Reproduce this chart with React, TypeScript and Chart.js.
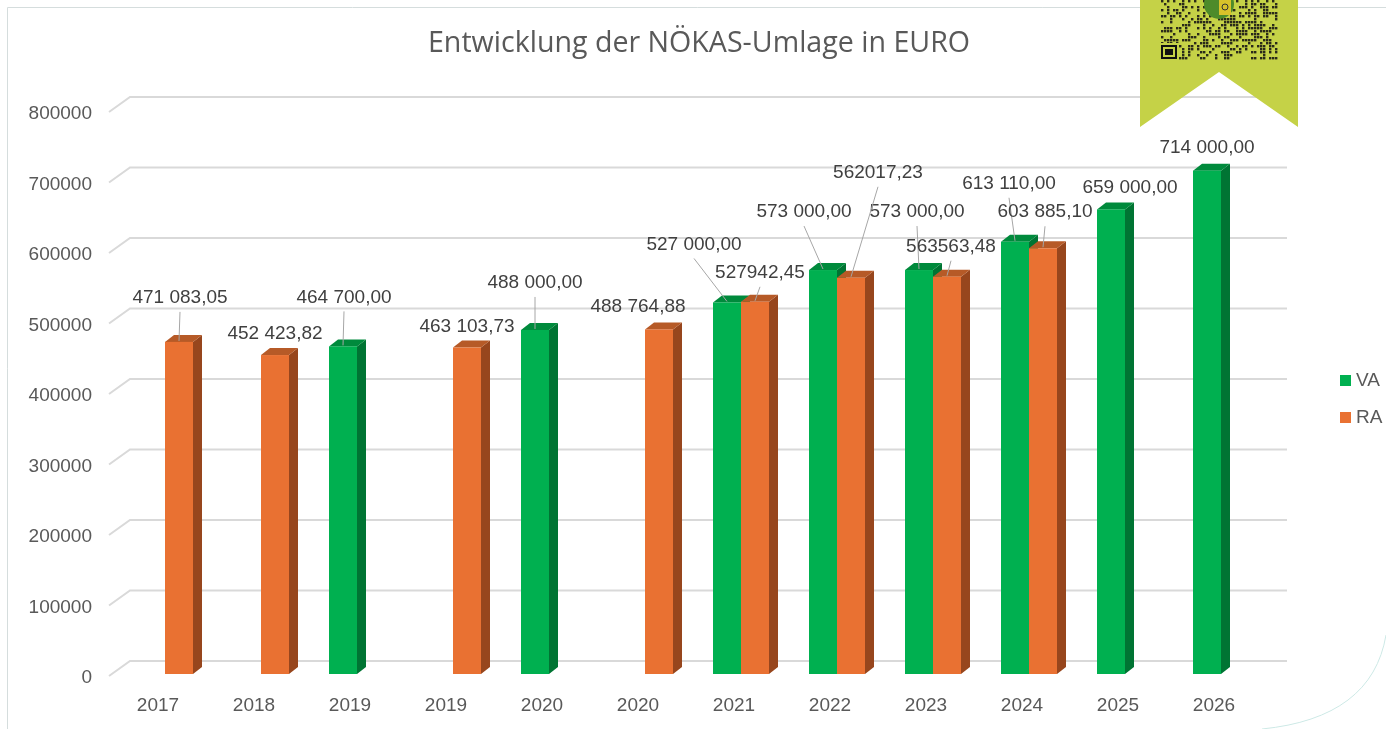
import React, { useEffect, useRef } from 'react';
import { Chart, registerables } from 'chart.js';

Chart.register(...registerables);

const TITLE = 'Entwicklung der NÖKAS-Umlage in EURO';
const CATEGORIES = ['2017', '2018', '2019', '2019', '2020', '2020', '2021', '2022', '2023', '2024', '2025', '2026'];
const SERIES_NAMES = ['VA', 'RA'];
const VA_VALUES: (number | null)[] = [null, null, 464700, null, 488000, null, 527000, 573000, 573000, 613110, 659000, 714000];
const RA_VALUES: (number | null)[] = [471083.05, 452423.82, null, 463103.73, null, 488764.88, 527942.45, 562017.23, 563563.48, 603885.1, null, null];
const Y_TICKS = [0, 100000, 200000, 300000, 400000, 500000, 600000, 700000, 800000];

// label number style: true = thousands grouped with a space, false = plain
const VA_LABEL_GROUPED = [true, true, true, true, true, true, true, true, true, true, true, true];
const RA_LABEL_GROUPED = [true, true, true, true, true, true, false, false, false, true, true, true];
// label placement offsets relative to the top-centre of the bar front
const VA_LABEL_OFFSETS: ([number, number] | null)[] = [null, null, [1, -49], null, [0, -47], null, [-33, -58], [-19, -58], [-2, -58], [-6, -58], [19, -22], [0, -23]];
const RA_LABEL_OFFSETS: ([number, number] | null)[] = [[1, -44], [0, -21], null, [0, -21], null, [-21, -23], [5, -29], [27, -105], [4, -30], [2, -36], null, null];
const VA_LEADERS = [false, false, true, false, true, false, true, true, true, true, false, false];
const RA_LEADERS = [true, false, false, false, false, false, true, true, true, true, false, false];

const COLORS = {
  va: { front: '#00B050', side: '#007433', top: '#008A3C' },
  ra: { front: '#E97132', side: '#97461D', top: '#B65A27' },
};
const FONT = '"Liberation Sans", Arial, sans-serif';
const DEPTH_X = 9;
const DEPTH_Y = 7;

function fmt(v: number, grouped: boolean) {
  const [i, d] = v.toFixed(2).split('.');
  const ip = grouped ? i.replace(/\B(?=(\d{3})+(?!\d))/g, ' ') : i;
  return ip + ',' + d;
}

const decoPlugin = {
  id: 'deco3d',
  beforeDatasetsDraw(chart: any) {
    const ctx = chart.ctx;
    const y = chart.scales.y;
    const left = chart.chartArea.left;
    ctx.save();
    ctx.strokeStyle = '#D9D9D9';
    ctx.lineWidth = 2;
    Y_TICKS.forEach((v) => {
      const yf = y.getPixelForValue(v);
      ctx.beginPath();
      ctx.moveTo(left - 8, yf + 2);
      ctx.lineTo(left + 13, yf - 13);
      ctx.lineTo(1287, yf - 13);
      ctx.stroke();
    });
    ctx.restore();
  },
  afterDatasetsDraw(chart: any) {
    const ctx = chart.ctx;
    const sets = [
      { vals: VA_VALUES, c: COLORS.va, meta: chart.getDatasetMeta(0) },
      { vals: RA_VALUES, c: COLORS.ra, meta: chart.getDatasetMeta(1) },
    ];
    ctx.save();
    for (let i = 0; i < CATEGORIES.length; i++) {
      sets.forEach((s) => {
        const v = s.vals[i];
        if (v == null) return;
        const el = s.meta.data[i];
        const w = el.width;
        const l = el.x - w / 2;
        const r = el.x + w / 2;
        const t = el.y;
        const b = el.base;
        ctx.fillStyle = s.c.side;
        ctx.beginPath();
        ctx.moveTo(r, t);
        ctx.lineTo(r + DEPTH_X, t - DEPTH_Y);
        ctx.lineTo(r + DEPTH_X, b - DEPTH_Y);
        ctx.lineTo(r, b);
        ctx.closePath();
        ctx.fill();
        ctx.fillStyle = s.c.top;
        ctx.beginPath();
        ctx.moveTo(l, t);
        ctx.lineTo(l + DEPTH_X, t - DEPTH_Y);
        ctx.lineTo(r + DEPTH_X, t - DEPTH_Y);
        ctx.lineTo(r, t);
        ctx.closePath();
        ctx.fill();
        ctx.fillStyle = s.c.front;
        ctx.fillRect(l, t, w, b - t);
      });
    }
    const labelSets = [
      { vals: VA_VALUES, off: VA_LABEL_OFFSETS, grp: VA_LABEL_GROUPED, lead: VA_LEADERS, meta: chart.getDatasetMeta(0) },
      { vals: RA_VALUES, off: RA_LABEL_OFFSETS, grp: RA_LABEL_GROUPED, lead: RA_LEADERS, meta: chart.getDatasetMeta(1) },
    ];
    ctx.font = `19px ${FONT}`;
    ctx.textAlign = 'center';
    ctx.textBaseline = 'middle';
    labelSets.forEach((s) => {
      for (let i = 0; i < CATEGORIES.length; i++) {
        const v = s.vals[i];
        const o = s.off[i];
        if (v == null || !o) continue;
        const el = s.meta.data[i];
        const lx = el.x + o[0];
        const ly = el.y + o[1];
        if (s.lead[i]) {
          ctx.strokeStyle = '#A6A6A6';
          ctx.lineWidth = 1;
          ctx.beginPath();
          ctx.moveTo(lx, ly + 14);
          ctx.lineTo(el.x, el.y - 1);
          ctx.stroke();
        }
        ctx.fillStyle = '#404040';
        ctx.fillText(fmt(v, s.grp[i]), lx, ly);
      }
    });
    ctx.restore();
  },
  afterDraw(chart: any) {
    const ctx = chart.ctx;
    ctx.save();
    ctx.strokeStyle = '#D5DDDD';
    ctx.lineWidth = 1;
    ctx.beginPath();
    ctx.moveTo(7.5, 740);
    ctx.lineTo(7.5, 7.5);
    ctx.lineTo(1400, 7.5);
    ctx.stroke();
    ctx.strokeStyle = '#CDE9E6';
    ctx.beginPath();
    ctx.moveTo(1386, 635);
    ctx.quadraticCurveTo(1372, 718, 1262, 729);
    ctx.stroke();
    ctx.fillStyle = '#595959';
    ctx.font = `28.6px "Open Sans", ${FONT}`;
    ctx.textAlign = 'center';
    ctx.textBaseline = 'middle';
    ctx.fillText(TITLE, 699, 44);
    ctx.font = `19px ${FONT}`;
    ctx.textAlign = 'left';
    const legCols = [COLORS.va.front, COLORS.ra.front];
    SERIES_NAMES.forEach((n, k) => {
      const yy = 381 + k * 37;
      ctx.fillStyle = legCols[k];
      ctx.fillRect(1340, yy - 6, 11, 11);
      ctx.fillStyle = '#595959';
      ctx.fillText(n, 1356, yy);
    });
    ctx.fillStyle = '#C5D247';
    ctx.beginPath();
    ctx.moveTo(1140, 0);
    ctx.lineTo(1298, 0);
    ctx.lineTo(1298, 127);
    ctx.lineTo(1219, 72);
    ctx.lineTo(1140, 127);
    ctx.closePath();
    ctx.fill();
    ctx.fillStyle = '#2a2a1a';
    const cs = 3;
    for (let r = 0; r < 20; r++) {
      for (let c = 0; c < 39; c++) {
        const h = ((r * 73856093) ^ (c * 19349663) ^ (r * c * 83492791)) >>> 0;
        if (h % 7 < 3) ctx.fillRect(1161 + c * cs, r * cs, cs - 0.6, cs - 0.6);
      }
    }
    ctx.fillStyle = '#C5D247';
    ctx.fillRect(1159, 43, 20, 18);
    ctx.fillStyle = '#111';
    ctx.fillRect(1161, 45, 16, 14);
    ctx.fillStyle = '#C5D247';
    ctx.fillRect(1163, 47, 12, 10);
    ctx.fillStyle = '#111';
    ctx.fillRect(1165, 49, 8, 6);
    ctx.fillStyle = '#4D8B2A';
    ctx.beginPath();
    ctx.arc(1219, 4, 15, 0, Math.PI * 2);
    ctx.fill();
    ctx.fillStyle = '#D9C22A';
    ctx.fillRect(1219, 0, 12, 15);
    ctx.strokeStyle = '#333';
    ctx.beginPath();
    ctx.arc(1225, 7, 3, 0, Math.PI * 2);
    ctx.stroke();
    ctx.restore();
  },
};

export default function App() {
  const ref = useRef<HTMLCanvasElement | null>(null);
  useEffect(() => {
    document.body.style.margin = '0';
    const canvas = ref.current!;
    const chart = new Chart(canvas, {
      type: 'bar',
      data: {
        labels: CATEGORIES,
        datasets: [
          { label: SERIES_NAMES[0], data: VA_VALUES as any, backgroundColor: 'rgba(0,0,0,0)', categoryPercentage: 56 / 96, barPercentage: 1 },
          { label: SERIES_NAMES[1], data: RA_VALUES as any, backgroundColor: 'rgba(0,0,0,0)', categoryPercentage: 56 / 96, barPercentage: 1 },
        ],
      },
      options: {
        responsive: false,
        animation: false,
        devicePixelRatio: 1,
        layout: { padding: { top: 110, right: 117, bottom: 0, left: 0 } },
        plugins: { legend: { display: false }, title: { display: false }, tooltip: { enabled: false } },
        scales: {
          x: {
            grid: { display: false, drawTicks: false },
            border: { display: false },
            ticks: { color: '#595959', font: { size: 19, family: FONT }, padding: 20, labelOffset: -7, maxRotation: 0, autoSkip: false },
            afterFit: (s: any) => { s.height = 55; },
          },
          y: {
            min: 0,
            max: 800000,
            grid: { display: false, drawTicks: false },
            border: { display: false },
            ticks: { stepSize: 100000, color: '#595959', font: { size: 19, family: FONT }, padding: 25, labelOffset: 4, callback: (v: any) => String(v) },
            afterFit: (s: any) => { s.width = 117; },
          },
        },
      },
      plugins: [decoPlugin],
    });
    return () => chart.destroy();
  }, []);
  return <canvas ref={ref} width={1386} height={729} style={{ display: 'block', width: 1386, height: 729 }} />;
}
